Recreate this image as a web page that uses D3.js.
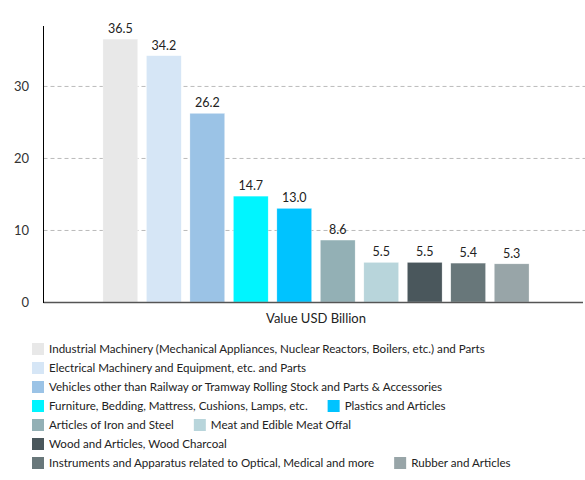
<!DOCTYPE html>
<html>
<head>
<meta charset="utf-8">
<script src="https://cdn.jsdelivr.net/npm/d3@7"></script>
<style>
  body { margin: 0; background: #fff; }
  svg { font-family: Lato, "Open Sans", sans-serif; }
  .grid line { stroke: #bbb; stroke-dasharray: 4,3; }
  .grid path { display: none; }
</style>
</head>
<body>
<svg width="585" height="480"></svg>
<script>
// data
var category = "Value USD Billion";
var series = [
  "Industrial Machinery (Mechanical Appliances, Nuclear Reactors, Boilers, etc.) and Parts",
  "Electrical Machinery and Equipment, etc. and Parts",
  "Vehicles other than Railway or Tramway Rolling Stock and Parts & Accessories",
  "Furniture, Bedding, Mattress, Cushions, Lamps, etc.",
  "Plastics and Articles",
  "Articles of Iron and Steel",
  "Meat and Edible Meat Offal",
  "Wood and Articles, Wood Charcoal",
  "Instruments and Apparatus related to Optical, Medical and more",
  "Rubber and Articles"
];
var values = [36.5, 34.2, 26.2, 14.7, 13.0, 8.6, 5.5, 5.5, 5.4, 5.3];
var colors = ["#e8e8e8", "#d6e6f6", "#9bc3e6", "#00f5ff", "#00c3ff",
              "#93b0b5", "#b8d5db", "#4a575c", "#68777a", "#98a5a8"];
var yTicks = [0, 10, 20, 30];

var svg = d3.select("svg");
var plotLeft = 43.5, plotRight = 585, plotTop = 26, plotBottom = 302;

var x0 = d3.scaleBand().domain([category]).range([45, 587])
    .paddingInner(0).paddingOuter(0.136);
var x1 = d3.scaleBand().domain(series).range([0, x0.bandwidth()])
    .paddingInner(0.2).paddingOuter(0);
var y = d3.scaleLinear().domain([0, d3.max(values) * 1.05]).range([plotBottom, plotTop]);
var color = d3.scaleOrdinal().domain(series).range(colors);

// gridlines
svg.append("g")
    .attr("class", "grid")
    .attr("transform", "translate(" + plotLeft + ",0)")
    .call(d3.axisLeft(y).tickValues(yTicks.filter(t => t > 0))
        .tickSize(-(plotRight - plotLeft)).tickFormat(""));

// y tick labels
svg.append("g")
    .selectAll("text")
    .data(yTicks)
  .enter().append("text")
    .attr("x", 29)
    .attr("y", d => y(d))
    .attr("dy", "0.35em")
    .attr("text-anchor", "end")
    .attr("font-size", 13)
    .attr("fill", "#333")
    .text(d => d);

// bars
var g = svg.append("g").attr("transform", "translate(" + x0(category) + ",0)");
var data = series.map((s, i) => ({name: s, value: values[i]}));

g.selectAll("rect")
    .data(data)
  .enter().append("rect")
    .attr("x", d => x1(d.name))
    .attr("y", d => y(d.value))
    .attr("width", x1.bandwidth())
    .attr("height", d => y(0) - y(d.value))
    .attr("fill", d => color(d.name))
    .attr("stroke", "#fff")
    .attr("stroke-opacity", 0.6)
    .attr("stroke-width", 0.5);

g.selectAll(".val")
    .data(data)
  .enter().append("text")
    .attr("class", "val")
    .attr("x", d => x1(d.name) + x1.bandwidth() / 2)
    .attr("y", d => y(d.value) - 6)
    .attr("text-anchor", "middle")
    .attr("font-size", 12.5)
    .attr("fill", "#222")
    .text(d => d.value.toFixed(1));

// axes lines
svg.append("line")
    .attr("x1", plotLeft).attr("x2", plotRight - 2)
    .attr("y1", plotBottom + 0.5).attr("y2", plotBottom + 0.5)
    .attr("stroke", "#555").attr("stroke-width", 1.5);
svg.append("line")
    .attr("x1", plotLeft).attr("x2", plotLeft)
    .attr("y1", plotTop).attr("y2", plotBottom + 1)
    .attr("stroke", "#000").attr("stroke-width", 1);

// category label
svg.append("text")
    .attr("x", x0(category) + x0.bandwidth() / 2)
    .attr("y", 323)
    .attr("text-anchor", "middle")
    .attr("font-size", 13)
    .attr("fill", "#222")
    .text(category);

// legend, flowing rows
var legend = svg.append("g");
var lx = 32, ly = 349, maxRight = 535, rowH = 19;
data.forEach(function(d) {
  var item = legend.append("g");
  item.append("rect")
      .attr("width", 12).attr("height", 12)
      .attr("y", -6)
      .attr("fill", color(d.name));
  var t = item.append("text")
      .attr("x", 17)
      .attr("dy", "0.35em")
      .attr("font-size", 11.6)
      .attr("fill", "#222")
      .text(d.name);
  var w = 17 + t.node().getComputedTextLength();
  if (lx > 32 && lx + w > maxRight) { lx = 32; ly += rowH; }
  item.attr("transform", "translate(" + lx + "," + ly + ")");
  lx += w + 20;
});
</script>
</body>
</html>
